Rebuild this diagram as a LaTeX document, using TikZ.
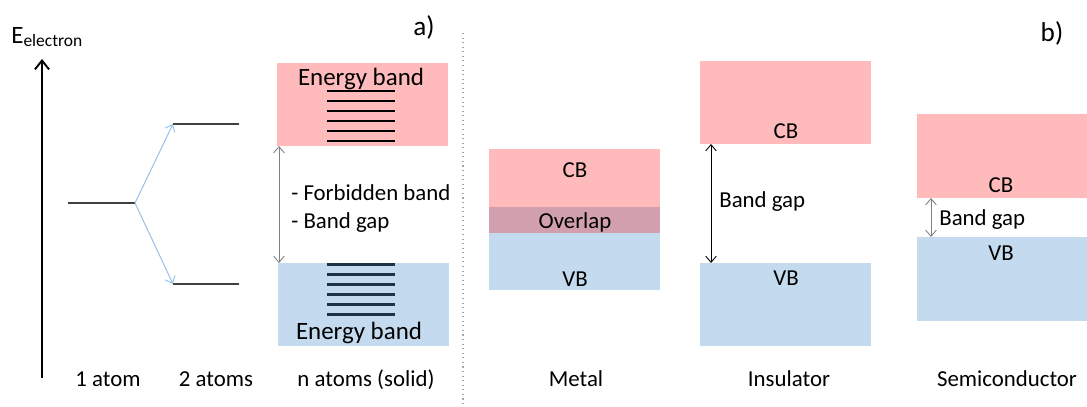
\documentclass[tikz,border=0pt]{standalone}
\usepackage{fontspec}
\setmainfont{Carlito}
\usetikzlibrary{arrows.meta}
\definecolor{cbred}{HTML}{FFBBBB}
\definecolor{vbblue}{HTML}{C4DAEE}
\definecolor{overlapred}{HTML}{D19FAD}
\definecolor{splitblue}{HTML}{9DC3E6}
\definecolor{stackblue}{HTML}{1F3347}
\begin{document}
\begin{tikzpicture}[x=0.02cm, y=-0.02cm, font=\fontsize{13}{15}\selectfont, line join=round, line cap=butt,
		>={Straight Barb[length=3.5pt,width=6pt]},
		level/.style={line width=0.75pt, black!75},
		splitarrow/.style={->, splitblue, line width=0.6pt},
		gaparrow/.style={<->, line width=0.5pt},
		stackline/.style={line width=1.7pt},
		lbl/.style={anchor=base, inner sep=0pt},
		lblw/.style={anchor=base west, inner sep=0pt},
		big/.style={font=\fontsize{14.2}{16}\selectfont}]
	\useasboundingbox (0,0) rectangle (1087,406);
	% a) levels
	\coordinate (axisS) at (42,378); \coordinate (axisE) at (42,59);
	\draw[->, line width=1.1pt, >={Straight Barb[length=5pt,width=8pt]}] (axisS) -- (axisE);
	\node[lblw, big] (elabel) at (11,43) {E\textsubscript{electron}};
	\node[lbl, font=\fontsize{15.5}{17}\selectfont] (parta) at (424,35) {a)};
	\coordinate (one) at (68,203); \coordinate (split) at (135,203);
	\coordinate (upL) at (173,124); \coordinate (upR) at (239,124);
	\coordinate (dnL) at (173,284); \coordinate (dnR) at (239,284);
	\draw[level] (one) -- (split);
	\draw[level] (upL) -- (upR);
	\draw[level] (dnL) -- (dnR);
	\draw[splitarrow] (split) -- (upL);
	\draw[splitarrow] (split) -- (dnL);
	% a) bands of the solid
	\fill[cbred] (277,63) rectangle (448,146);
	\fill[vbblue] (278,263) rectangle (449,346);
	\foreach \y in {91,101,...,141} \draw[stackline] (327,\y) -- (395,\y);
	\foreach \y in {264,274,...,314} \draw[stackline, stackblue] (327,\y) -- (395,\y);
	\node[lbl, big] (ebandT) at (361,85) {Energy band};
	\node[lbl, big] (ebandB) at (359,339) {Energy band};
	\coordinate (gapT) at (279,146); \coordinate (gapB) at (279,263);
	\draw[gaparrow, gray] (gapT) -- (gapB);
	\node[lblw] (forb) at (291,200) {- Forbidden band};
	\node[lblw] (bgapA) at (291,228) {- Band gap};
	\node[lbl] (atom1) at (108,386) {1 atom};
	\node[lbl] (atom2) at (216,386) {2 atoms};
	\node[lbl] (atomN) at (366,386) {n atoms (solid)};
	% separator
	\coordinate (sepT) at (463,33); \coordinate (sepB) at (463,406);
	\draw[dotted, gray!70, line width=0.6pt] (sepT) -- (sepB);
	% b) metal
	\node[lbl, font=\fontsize{15.5}{17}\selectfont] (partb) at (1052,41) {b)};
	\fill[cbred] (489,149) rectangle (660,207);
	\fill[overlapred] (489,207) rectangle (660,233);
	\fill[vbblue] (489,233) rectangle (660,290);
	\node[lbl] (metCB) at (575,177) {CB};
	\node[lbl] (metOv) at (575,228) {Overlap};
	\node[lbl] (metVB) at (575,286) {VB};
	% b) insulator
	\fill[cbred] (700,61) rectangle (871,144);
	\fill[vbblue] (700,263) rectangle (871,346);
	\node[lbl] (insCB) at (786,138) {CB};
	\node[lbl] (insVB) at (786,285) {VB};
	\coordinate (insT) at (711,144); \coordinate (insB) at (711,263);
	\draw[gaparrow] (insT) -- (insB);
	\node[lblw] (insGap) at (719,207) {Band gap};
	% b) semiconductor
	\fill[cbred] (917,114) rectangle (1087,198);
	\fill[vbblue] (917,237) rectangle (1087,321);
	\node[lbl] (semCB) at (1001,192) {CB};
	\node[lbl] (semVB) at (1001,260) {VB};
	\coordinate (semT) at (931,198); \coordinate (semB) at (931,237);
	\draw[gaparrow, gray] (semT) -- (semB);
	\node[lblw] (semGap) at (939,225) {Band gap};
	\node[lbl] (metal) at (576,386) {Metal};
	\node[lbl] (insul) at (789,386) {Insulator};
	\node[lbl] (semi) at (1007,386) {Semiconductor};
\end{tikzpicture}
\end{document}
